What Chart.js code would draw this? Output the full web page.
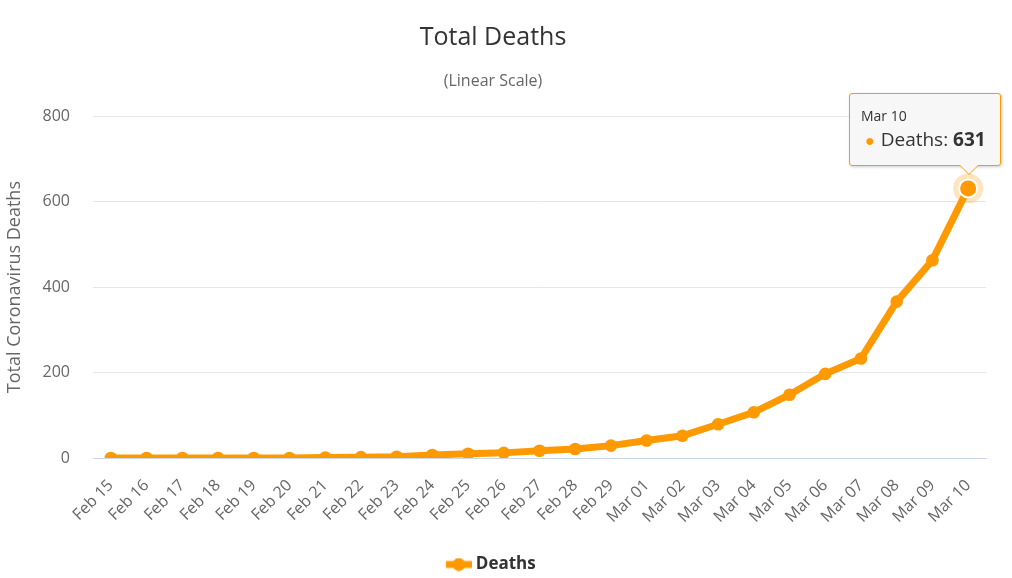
<!DOCTYPE html>
<html>
<head>
<meta charset="utf-8">
<script src="https://cdn.jsdelivr.net/npm/chart.js@4/dist/chart.umd.min.js"></script>
<style>
  body { margin: 0; background: #fff; }
  #wrap { position: relative; width: 1012px; height: 578px; }
  #tip {
    position: absolute; display: none; pointer-events: none;
    background: rgba(247,247,247,0.95); border: 1px solid #ff9900; border-radius: 3px;
    box-shadow: 1px 1px 3px rgba(0,0,0,0.2);
    font-family: "Open Sans", sans-serif; color: #333; padding: 12px 14px 11px 11px;
    white-space: nowrap;
  }
  #tip .head { font-size: 14px; line-height: 19px; }
  #tip .body { font-size: 19px; line-height: 28px; }
  #tip .dot { color: #ff9900; font-size: 16px; margin: 0 6px 0 4px; }
  #tip b { font-weight: bold; }
  #tip:after, #tip:before {
    content: ""; position: absolute; top: 100%; border: solid transparent;
  }
  #tip:before { border-top-color: #ff9900; border-width: 10px; margin-left: -10px; left: var(--cx); }
  #tip:after { border-top-color: #f7f7f7; border-width: 9px; margin-left: -9px; left: var(--cx); }
</style>
</head>
<body>
<div id="wrap">
  <canvas id="myChart" width="1012" height="578"></canvas>
  <div id="tip"></div>
</div>
<script>
const days = ['Feb 15', 'Feb 16', 'Feb 17', 'Feb 18', 'Feb 19', 'Feb 20', 'Feb 21', 'Feb 22',
  'Feb 23', 'Feb 24', 'Feb 25', 'Feb 26', 'Feb 27', 'Feb 28', 'Feb 29', 'Mar 01', 'Mar 02',
  'Mar 03', 'Mar 04', 'Mar 05', 'Mar 06', 'Mar 07', 'Mar 08', 'Mar 09', 'Mar 10'];
const deaths = [0, 0, 0, 0, 0, 0, 1, 2, 3, 7, 10, 12, 17, 21, 29, 41, 52, 79, 107, 148, 197, 233, 366, 463, 631];
const yTicks = [0, 200, 400, 600, 800];

const orange = '#ff9900';
const font = '"Open Sans", sans-serif';

// legend symbol: short thick line with a dot
const sym = document.createElement('canvas');
sym.width = 26; sym.height = 14;
const sc = sym.getContext('2d');
sc.strokeStyle = orange; sc.lineWidth = 7;
sc.beginPath(); sc.moveTo(0, 7); sc.lineTo(26, 7); sc.stroke();
sc.fillStyle = orange;
sc.beginPath(); sc.arc(13, 7, 6.5, 0, Math.PI * 2); sc.fill();

const tipEl = document.getElementById('tip');

const halo = {
  id: 'halo',
  beforeDatasetsDraw(chart) {
    chart.getActiveElements().forEach(a => {
      const pt = chart.getDatasetMeta(a.datasetIndex).data[a.index];
      const c = chart.ctx;
      c.save();
      c.fillStyle = 'rgba(255,153,0,0.25)';
      c.beginPath(); c.arc(pt.x, pt.y, 15, 0, Math.PI * 2); c.fill();
      c.restore();
    });
  }
};

const ctx = document.getElementById('myChart');

const chart = new Chart(ctx, {
  type: 'line',
  data: {
    labels: days,
    datasets: [{
      label: 'Deaths',
      data: deaths,
      borderColor: orange,
      backgroundColor: orange,
      borderWidth: 7,
      pointRadius: 6.3,
      pointBorderWidth: 0,
      pointHoverRadius: 9,
      pointHoverBorderWidth: 2,
      pointHoverBorderColor: '#fff',
      pointHoverBackgroundColor: orange,
      tension: 0
    }]
  },
  options: {
    responsive: false,
    animation: false,
    events: [],
    layout: { padding: { left: 0, right: 26, top: 4, bottom: -5 } },
    plugins: {
      title: {
        display: true,
        text: 'Total Deaths',
        color: '#333',
        font: { family: font, size: 25, weight: 'normal' },
        padding: { top: 19, bottom: 19 }
      },
      subtitle: {
        display: true,
        text: '(Linear Scale)',
        color: '#666',
        font: { family: font, size: 16 },
        padding: { top: 0, bottom: 25 }
      },
      legend: {
        position: 'bottom',
        labels: {
          usePointStyle: true,
          color: '#333',
          font: { family: font, size: 17, weight: 'bold' },
          padding: 5,
          generateLabels: c => c.data.datasets.map((d, i) => ({
            text: d.label, pointStyle: sym, datasetIndex: i,
            fillStyle: orange, strokeStyle: orange, lineWidth: 0, fontColor: '#333'
          }))
        }
      },
      tooltip: {
        enabled: false,
        external: ({ chart, tooltip }) => {
          if (tooltip.opacity === 0 || !tooltip.dataPoints) { tipEl.style.display = 'none'; return; }
          const dp = tooltip.dataPoints[0];
          tipEl.innerHTML = '<div class="head">' + dp.label + '</div>' +
            '<div class="body"><span class="dot">●</span>' + dp.dataset.label + ': <b>' + dp.raw + '</b></div>';
          tipEl.style.display = 'block';
          const w = tipEl.offsetWidth, h = tipEl.offsetHeight;
          const left = Math.min(tooltip.caretX - w / 2, chart.width - 11 - w);
          tipEl.style.left = left + 'px';
          tipEl.style.top = (tooltip.caretY - h - 22) + 'px';
          tipEl.style.setProperty('--cx', (tooltip.caretX - left) + 'px');
        }
      }
    },
    scales: {
      x: {
        offset: true,
        grid: { display: false },
        border: { color: '#ccd6eb', width: 1 },
        afterFit: s => { s.height = 93; s.paddingLeft = 0; s.paddingRight = 0; },
        ticks: {
          color: '#666',
          font: { family: font, size: 16 },
          maxRotation: 45,
          minRotation: 45,
          autoSkip: false,
          padding: 10
        }
      },
      y: {
        min: 0,
        max: 800,
        afterBuildTicks: s => { s.ticks = yTicks.map(v => ({ value: v })); },
        afterFit: s => { s.width = 93; },
        grid: { color: '#e6e6e6', drawTicks: false },
        border: { display: false },
        ticks: {
          color: '#666',
          font: { family: font, size: 16 },
          padding: 23
        },
        title: {
          display: true,
          text: 'Total Coronavirus Deaths',
          color: '#666',
          font: { family: font, size: 18 },
          padding: { top: 4, bottom: 16 }
        }
      }
    }
  },
  plugins: [halo]
});

const last = deaths.length - 1;
const lastPt = chart.getDatasetMeta(0).data[last];
chart.setActiveElements([{ datasetIndex: 0, index: last }]);
chart.tooltip.setActiveElements([{ datasetIndex: 0, index: last }], { x: lastPt.x, y: lastPt.y });
chart.update();
</script>
</body>
</html>
